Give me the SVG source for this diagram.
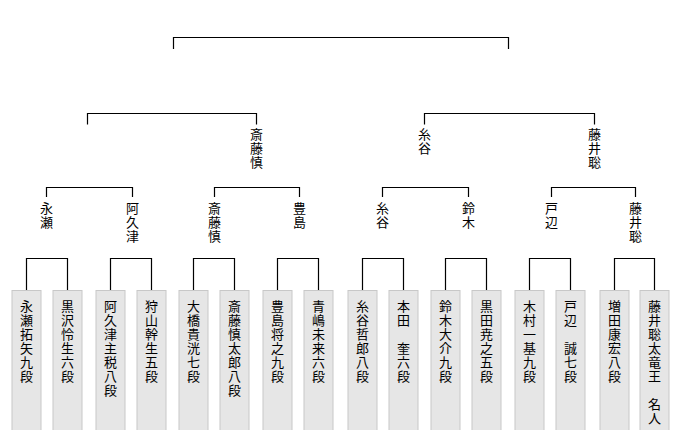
<svg xmlns="http://www.w3.org/2000/svg" width="680" height="430" viewBox="0 0 680 430">
<style>
.bg{fill:#ffffff}
.ln{fill:none;stroke:#000;stroke-width:1.2}
.box{fill:#e6e6e6;stroke:#c8c8c8;stroke-width:1}
.t{font-family:"Noto Sans CJK JP","Noto Sans CJK SC",sans-serif;font-size:13px;fill:#000;writing-mode:vertical-rl;letter-spacing:1px}
</style>
<rect class="bg" x="0" y="0" width="680" height="430"/>
<g id="connectors">
<path class="ln" d="M173.5,49 V37.5 H508.5 V49"/>
<path class="ln" d="M87.5,124.5 V113.5 H256.5 V124.5"/>
<path class="ln" d="M424.5,124.5 V113.5 H594.5 V124.5"/>
<path class="ln" d="M46.5,197 V187.5 H132.5 V197"/>
<path class="ln" d="M214.5,197 V187.5 H299.5 V197"/>
<path class="ln" d="M382.5,197 V187.5 H468.5 V197"/>
<path class="ln" d="M551.5,197 V187.5 H635.5 V197"/>
<path class="ln" d="M26.5,290 V258.5 H67.5 V290"/>
<path class="ln" d="M110.5,290 V258.5 H151.5 V290"/>
<path class="ln" d="M193.5,290 V258.5 H234.5 V290"/>
<path class="ln" d="M277.5,290 V258.5 H318.5 V290"/>
<path class="ln" d="M362.5,290 V258.5 H403.5 V290"/>
<path class="ln" d="M445.5,290 V258.5 H486.5 V290"/>
<path class="ln" d="M529.5,290 V258.5 H570.5 V290"/>
<path class="ln" d="M614.5,290 V258.5 H654.5 V290"/>
</g>
<g id="w-saito-r2"><text class="t" x="256.5" y="128">斎藤慎</text></g>
<g id="w-itodani-r2"><text class="t" x="424.5" y="128">糸谷</text></g>
<g id="w-fujii-r2"><text class="t" x="594.5" y="128">藤井聡</text></g>
<g id="w-nagase"><text class="t" x="46.5" y="202">永瀬</text></g>
<g id="w-akutsu"><text class="t" x="132.5" y="202">阿久津</text></g>
<g id="w-saito"><text class="t" x="214.5" y="202">斎藤慎</text></g>
<g id="w-toyoshima"><text class="t" x="299.5" y="202">豊島</text></g>
<g id="w-itodani"><text class="t" x="382.5" y="202">糸谷</text></g>
<g id="w-suzuki"><text class="t" x="468.5" y="202">鈴木</text></g>
<g id="w-tobe"><text class="t" x="551.5" y="202">戸辺</text></g>
<g id="w-fujii"><text class="t" x="635.5" y="202">藤井聡</text></g>
<g id="p1"><rect class="box" x="12" y="290.5" width="29" height="145"/><text class="t" x="26.5" y="300">永瀬拓矢九段</text></g>
<g id="p2"><rect class="box" x="53" y="290.5" width="29" height="145"/><text class="t" x="67.5" y="300">黒沢怜生六段</text></g>
<g id="p3"><rect class="box" x="96" y="290.5" width="29" height="145"/><text class="t" x="110.5" y="300">阿久津主税八段</text></g>
<g id="p4"><rect class="box" x="137" y="290.5" width="29" height="145"/><text class="t" x="151.5" y="300">狩山幹生五段</text></g>
<g id="p5"><rect class="box" x="179" y="290.5" width="29" height="145"/><text class="t" x="193.5" y="300">大橋貴洸七段</text></g>
<g id="p6"><rect class="box" x="220" y="290.5" width="29" height="145"/><text class="t" x="234.5" y="300">斎藤慎太郎八段</text></g>
<g id="p7"><rect class="box" x="263" y="290.5" width="29" height="145"/><text class="t" x="277.5" y="300">豊島将之九段</text></g>
<g id="p8"><rect class="box" x="304" y="290.5" width="29" height="145"/><text class="t" x="318.5" y="300">青嶋未来六段</text></g>
<g id="p9"><rect class="box" x="348" y="290.5" width="29" height="145"/><text class="t" x="362.5" y="300">糸谷哲郎八段</text></g>
<g id="p10"><rect class="box" x="389" y="290.5" width="29" height="145"/><text class="t" x="403.5" y="300">本田　奎六段</text></g>
<g id="p11"><rect class="box" x="431" y="290.5" width="29" height="145"/><text class="t" x="445.5" y="300">鈴木大介九段</text></g>
<g id="p12"><rect class="box" x="472" y="290.5" width="29" height="145"/><text class="t" x="486.5" y="300">黒田尭之五段</text></g>
<g id="p13"><rect class="box" x="515" y="290.5" width="29" height="145"/><text class="t" x="529.5" y="300">木村一基九段</text></g>
<g id="p14"><rect class="box" x="556" y="290.5" width="29" height="145"/><text class="t" x="570.5" y="300">戸辺　誠七段</text></g>
<g id="p15"><rect class="box" x="600" y="290.5" width="29" height="145"/><text class="t" x="614.5" y="300">増田康宏八段</text></g>
<g id="p16"><rect class="box" x="640" y="290.5" width="29" height="145"/><text class="t" x="654.5" y="300">藤井聡太竜王　名人</text></g>
</svg>
